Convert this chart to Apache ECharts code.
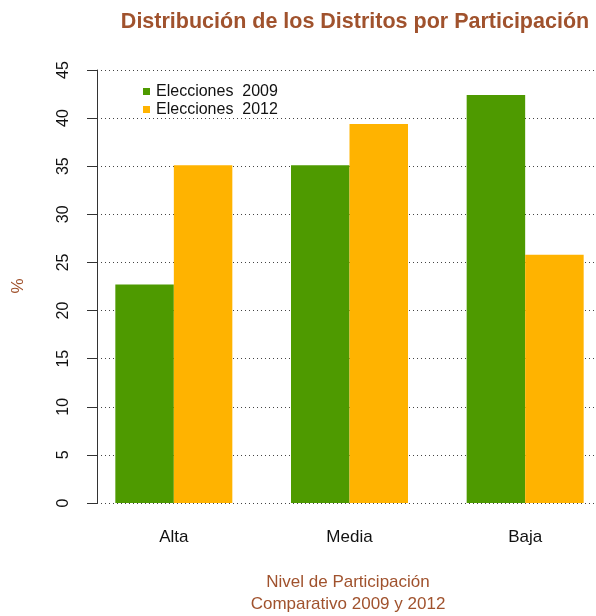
<!DOCTYPE html>
<html>
<head>
<meta charset="utf-8">
<script src="https://cdn.jsdelivr.net/npm/echarts@6/dist/echarts.min.js"></script>
<style>
  html, body { margin: 0; padding: 0; background: #fff; }
  #chart { width: 596px; height: 616px; }
</style>
</head>
<body>
<div id="chart"></div>
<script>
// datos
var categorias = ['Alta', 'Media', 'Baja'];
var elecciones2009 = [22.7, 35.1, 42.4];
var elecciones2012 = [35.1, 39.4, 25.8];
var ticksY = [0, 45, 5]; // min, max, intervalo

var marron = '#A0522D';
var fuente = 'Liberation Sans, Arial, Helvetica, sans-serif';

var chart = echarts.init(document.getElementById('chart'));
chart.setOption({
    animation: false,
    textStyle: { fontFamily: fuente },
    grid: [
        // rejilla del eje y y las lineas punteadas
        { left: 97, right: 0, top: 70, height: 433 },
        // rejilla de las barras (xlim de R extendido)
        { left: 86, width: 527, top: 70, height: 433, outerBoundsMode: 'none' }
    ],
    legend: {
        orient: 'vertical',
        left: 138, top: 78,
        icon: 'rect',
        itemWidth: 7, itemHeight: 7,
        itemGap: 1,
        textStyle: { fontSize: 16, color: '#111', lineHeight: 17, fontFamily: fuente, padding: [0, 0, 0, 1] },
        data: ['Elecciones  2009', 'Elecciones  2012']
    },
    xAxis: [
        { gridIndex: 0, type: 'value', min: 0, max: 1, show: false },
        {
            gridIndex: 1, type: 'category', data: categorias,
            axisLine: { show: false }, axisTick: { show: false },
            axisLabel: { fontSize: 17, color: '#111', margin: 26 }
        }
    ],
    yAxis: [
        {
            gridIndex: 0, type: 'value',
            min: ticksY[0], max: ticksY[1], interval: ticksY[2],
            axisLine: { show: true, lineStyle: { color: '#333', width: 1 } },
            axisTick: { show: true, length: 10, lineStyle: { color: '#333' } },
            axisLabel: { rotate: 90, fontSize: 16, color: '#111', margin: 25 },
            splitLine: { show: true, lineStyle: { color: '#444', type: [1, 3], width: 1 } }
        },
        {
            gridIndex: 1, type: 'value',
            min: ticksY[0], max: ticksY[1], interval: ticksY[2],
            show: false
        }
    ],
    series: [
        {
            name: 'Elecciones  2009', type: 'bar',
            xAxisIndex: 1, yAxisIndex: 1,
            data: elecciones2009,
            barWidth: 58.5, barGap: '0%',
            itemStyle: { color: '#4E9A00' }
        },
        {
            name: 'Elecciones  2012', type: 'bar',
            xAxisIndex: 1, yAxisIndex: 1,
            data: elecciones2012,
            barWidth: 58.5, barGap: '0%',
            itemStyle: { color: '#FFB300' }
        }
    ],
    graphic: [
        {
            type: 'text', x: 355, y: 22,
            style: {
                text: 'Distribución de los Distritos por Participación',
                font: 'bold 21.5px ' + fuente, fill: marron,
                align: 'center', verticalAlign: 'middle'
            }
        },
        {
            type: 'text', x: 18, y: 286, rotation: Math.PI / 2,
            style: {
                text: '%', font: '17px ' + fuente, fill: marron,
                align: 'center', verticalAlign: 'middle'
            }
        },
        {
            type: 'text', x: 348, y: 582,
            style: {
                text: 'Nivel de Participación', font: '17px ' + fuente, fill: marron,
                align: 'center', verticalAlign: 'middle'
            }
        },
        {
            type: 'text', x: 348, y: 604,
            style: {
                text: 'Comparativo 2009 y 2012', font: '17px ' + fuente, fill: marron,
                align: 'center', verticalAlign: 'middle'
            }
        }
    ]
});
</script>
</body>
</html>
